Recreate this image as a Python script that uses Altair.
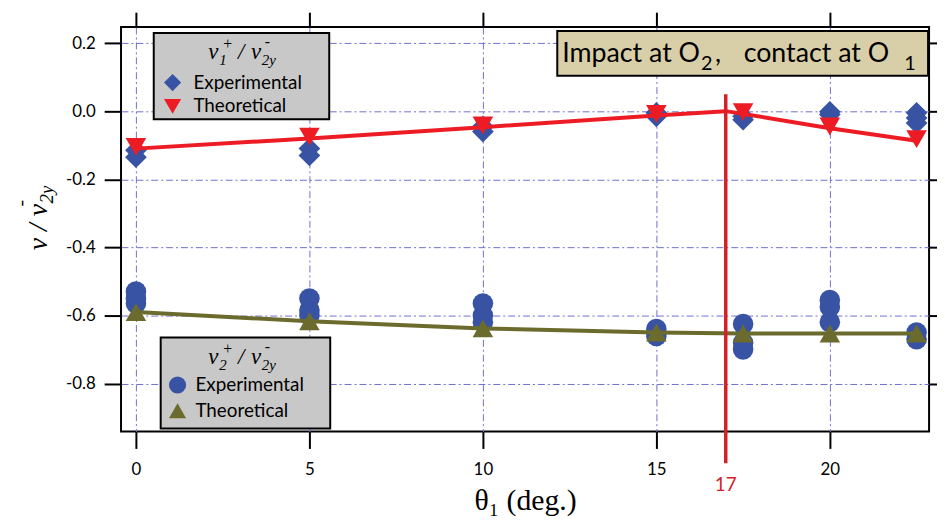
import altair as alt
import pandas as pd

# ---------------- data ----------------
exp1_x = [0, 0, 5, 5, 10, 10, 15, 15, 17.5, 17.5, 20, 20, 22.5, 22.5, 22.5]
exp1_y = [-0.135, -0.115, -0.11, -0.13, -0.045, -0.06, -0.005, -0.015,
          -0.015, -0.025, -0.002, -0.01, -0.005, -0.02, -0.035]

theo1_x = [0, 5, 10, 15, 17.5, 20, 22.5]
theo1_y = [-0.105, -0.075, -0.042, -0.008, -0.003, -0.045, -0.082]
theo1_line_x = [0, 5, 10, 15, 17, 17.5, 20, 22.5]
theo1_line_y = [-0.11, -0.08, -0.047, -0.013, 0.0, -0.008, -0.05, -0.087]

exp2_x = [0, 0, 0, 5, 5, 5, 10, 10, 10, 15, 15, 17.5, 17.5, 17.5, 20, 20, 20, 22.5, 22.5]
exp2_y = [-0.53, -0.55, -0.565, -0.55, -0.585, -0.6, -0.565, -0.6, -0.62,
          -0.64, -0.66, -0.625, -0.68, -0.70, -0.555, -0.575, -0.62, -0.65, -0.67]

theo2_x = [0, 5, 10, 15, 17.5, 20, 22.5]
theo2_y = [-0.59, -0.617, -0.638, -0.65, -0.653, -0.653, -0.653]

x_ticks = [0, 5, 10, 15, 20]
y_ticks = [-0.8, -0.6, -0.4, -0.2, 0.0, 0.2]
contact_angle = [17]

BLUE = "#3953A4"
RED = "#ED1C24"
OLIVE = "#6B6B2E"
GRID = "#6F6FD0"

W, H = 815, 408
xs = alt.Scale(domain=[-0.43, 22.86], nice=False, zero=False)
ys = alt.Scale(domain=[-0.941, 0.247], nice=False, zero=False)

df_e1 = pd.DataFrame({"x": exp1_x, "y": exp1_y})
df_t1 = pd.DataFrame({"x": theo1_x, "y": theo1_y})
df_t1l = pd.DataFrame({"x": theo1_line_x, "y": theo1_line_y})
df_e2 = pd.DataFrame({"x": exp2_x, "y": exp2_y})
df_t2 = pd.DataFrame({"x": theo2_x, "y": theo2_y})
df_17 = pd.DataFrame({"x": contact_angle, "y": [0.05]})
one = pd.DataFrame({"a": [0]})

X = lambda: alt.X("x:Q", scale=xs, axis=None)
Y = lambda: alt.Y("y:Q", scale=ys, axis=None)

ylab = "datum.value < 0 ? '-' + format(-datum.value, '.1f') : format(datum.value, '.1f')"

# main axes (bottom / left) with grid
axes_main = alt.Chart(df_e1).mark_point(opacity=0).encode(
    x=alt.X("x:Q", scale=xs, axis=alt.Axis(
        orient="bottom", values=x_ticks, format="d", grid=True, gridColor=GRID,
        gridDash=[7, 3, 2, 3], gridWidth=1, domain=False, tickSize=17, tickWidth=2,
        tickColor="black", labelFont="Lato", labelFontSize=17, labelColor="black",
        labelPadding=13, title="θ₁ (deg.)", titleFont="Liberation Serif",
        titleFontSize=30, titleFontWeight="normal", titleColor="black", titlePadding=9)),
    y=alt.Y("y:Q", scale=ys, axis=alt.Axis(
        orient="left", values=y_ticks, labelExpr=ylab, grid=True, gridColor=GRID,
        gridDash=[7, 3, 2, 3], gridWidth=1, domain=False, tickSize=17, tickWidth=2,
        tickColor="black", labelFont="Lato", labelFontSize=17, labelColor="black",
        labelPadding=9, title=None)),
)

# mirror axes (top / right), ticks only
axes_mirror = alt.Chart(df_e1).mark_point(opacity=0).encode(
    x=alt.X("x:Q", scale=xs, axis=alt.Axis(
        orient="top", values=x_ticks, labels=False, grid=False, domain=False,
        tickSize=15, tickWidth=2, tickColor="black", title=None)),
    y=alt.Y("y:Q", scale=ys, axis=alt.Axis(
        orient="right", values=y_ticks, labels=False, grid=False, domain=False,
        tickSize=10, tickWidth=2, tickColor="black", title=None)),
)

e1 = alt.Chart(df_e1).mark_point(shape="diamond", filled=True, size=480,
                                  color=BLUE, opacity=1).encode(x=X(), y=Y())
e2 = alt.Chart(df_e2).mark_point(shape="circle", filled=True, size=430,
                                  color=BLUE, opacity=1).encode(x=X(), y=Y())
l1 = alt.Chart(df_t1l).mark_line(color=RED, strokeWidth=4).encode(x=X(), y=Y())
l2 = alt.Chart(df_t2).mark_line(color=OLIVE, strokeWidth=4).encode(x=X(), y=Y())
t1 = alt.Chart(df_t1).mark_point(shape="triangle-down", filled=True, size=430,
                                  color=RED, opacity=1).encode(x=X(), y=Y())
t2 = alt.Chart(df_t2).mark_point(shape="triangle-up", filled=True, size=430,
                                  color=OLIVE, opacity=1).encode(x=X(), y=Y())

rule17 = alt.Chart(df_17).mark_rule(color="#D42027", strokeWidth=3.5).encode(
    x=X(), y=Y(), y2=alt.value(440))
lab17 = alt.Chart(df_17).mark_text(color="#D42027", font="Lato", fontSize=19,
                                   baseline="middle").encode(
    x=X(), y=alt.value(462), text=alt.value("17"))


def box(x1, x2, y1, y2, fill):
    return alt.Chart(one).mark_rect(fill=fill, stroke="black", strokeWidth=2).encode(
        x=alt.value(x1), x2=alt.value(x2), y=alt.value(y1), y2=alt.value(y2))


def txt(s, x, y, size, font="Lato", style="normal", align="left", angle=0,
        baseline="middle"):
    return alt.Chart(one).mark_text(text=s, font=font, fontSize=size, fontStyle=style,
                                    align=align, baseline=baseline, angle=angle,
                                    color="black").encode(
        x=alt.value(x), y=alt.value(y))


def sym(shape, color, x, y, size):
    return alt.Chart(one).mark_point(shape=shape, filled=True, size=size, color=color,
                                     opacity=1).encode(x=alt.value(x), y=alt.value(y))


SERIF = "Liberation Serif"


def ratio_title(sub, y0):
    # v_sub^+ / v_2y^-  composed of pieces, baseline at y0
    return [
        txt("v", 88, y0, 23, SERIF, "italic", baseline="alphabetic"),
        txt(sub, 99, y0 + 6, 15, SERIF, "italic", baseline="alphabetic"),
        txt("+", 103, y0 - 10, 16, SERIF, "normal", baseline="alphabetic"),
        txt("/", 118, y0, 23, SERIF, "italic", baseline="alphabetic"),
        txt("v", 131, y0, 23, SERIF, "italic", baseline="alphabetic"),
        txt("2y", 142, y0 + 6, 15, SERIF, "italic", baseline="alphabetic"),
        txt("-", 145, y0 - 12, 16, SERIF, "normal", baseline="alphabetic"),
    ]


leg1 = [box(33, 210, 6, 93, "#C8C8C8")] + ratio_title("1", 32) + [
    sym("diamond", BLUE, 52, 56, 300),
    txt("Experimental", 73, 56, 19),
    sym("triangle-down", RED, 52, 80, 300),
    txt("Theoretical", 73, 80, 19),
]
leg2 = [box(40, 211, 313, 405, "#C8C8C8")] + ratio_title("2", 340) + [
    sym("circle", BLUE, 57, 361, 300),
    txt("Experimental", 75, 361, 19),
    sym("triangle-up", OLIVE, 57, 387, 300),
    txt("Theoretical", 75, 387, 19),
]
annot = [
    box(440, 814, 4, 49, "#D8CFA9"),
    txt("Impact at O", 445, 35, 27, baseline="alphabetic"),
    txt("2", 585, 43, 20, baseline="alphabetic"),
    txt(",", 599, 35, 27, baseline="alphabetic"),
    txt("contact at O", 628, 35, 27, baseline="alphabetic"),
    txt("1", 790, 43, 20, baseline="alphabetic"),
]

# y-axis title  v / v_2y^-  (rotated)
ytitle = [
    txt("v / v", -75, 225, 28, SERIF, "italic", angle=270, baseline="alphabetic"),
    txt("2y", -69, 178, 19, SERIF, "italic", angle=270, baseline="alphabetic"),
    txt("-", -95, 181, 20, SERIF, "normal", angle=270, baseline="alphabetic"),
]

chart = alt.layer(
    axes_main, axes_mirror, e2, e1, l2, l1, t2, t1, rule17, lab17,
    *leg1, *leg2, *annot, *ytitle
).resolve_axis(x="independent", y="independent").properties(
    width=W, height=H,
    autosize=alt.AutoSizeParams(type="none"),
    padding={"left": 114, "top": 17, "right": 8, "bottom": 91},
).configure_view(stroke="black", strokeWidth=2)

chart.save("out.html", embed_options={"renderer": "svg", "actions": False})
